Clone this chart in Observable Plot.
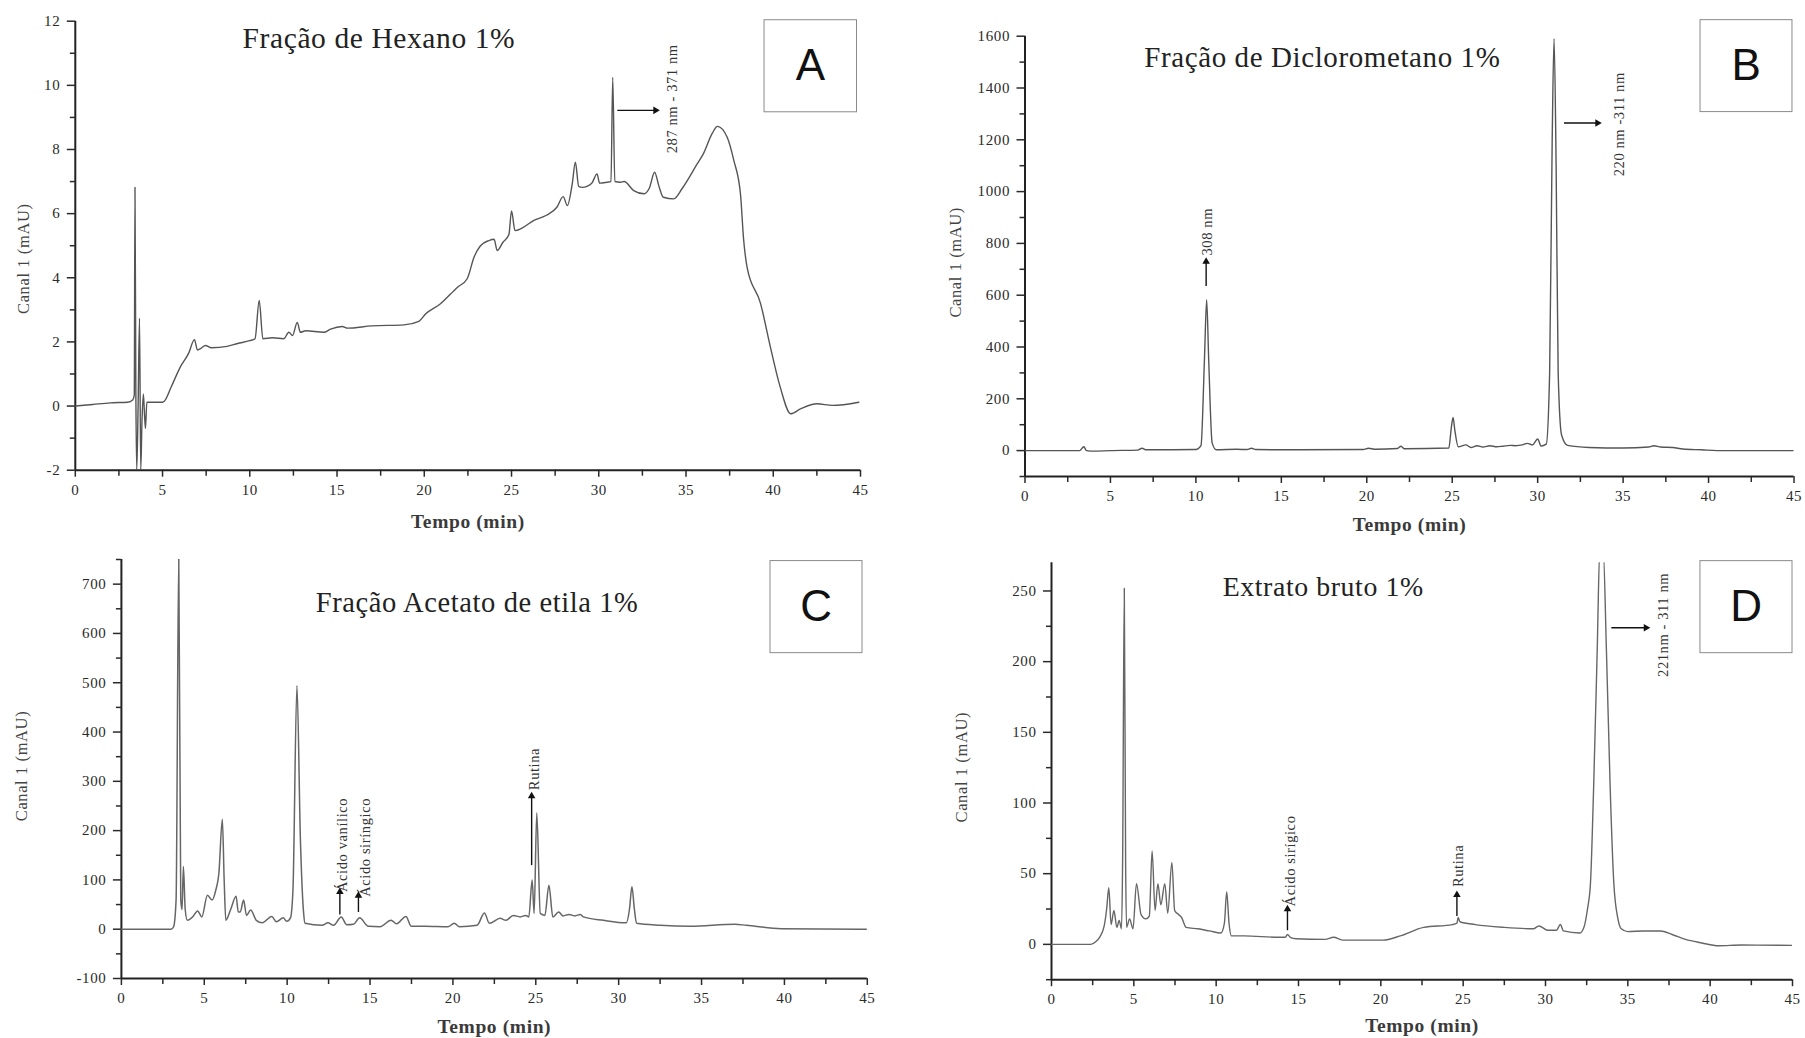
<!DOCTYPE html>
<html><head><meta charset="utf-8">
<script src="https://cdn.jsdelivr.net/npm/d3@7"></script>
<script src="https://cdn.jsdelivr.net/npm/@observablehq/plot@0.6"></script>
<style>
body{margin:0;background:#fff;}
#wrap{position:relative;width:1805px;height:1038px;overflow:hidden;background:#fff;}
.panel{position:absolute;}
</style></head><body><div id="wrap"></div>
<script>
// ---- data: [tempo (min), canal 1 (mAU)] ----
const hexano = [[0,0],[1,0.05],[2,0.1],[3,0.12],[3.3,0.2],[3.38,0.35],[3.42,6.82],[3.47,0.5],[3.52,-2],[3.6,0],[3.68,2.74],[3.75,-2],[3.82,-0.5],[3.9,0.38],[3.97,-0.3],[4.02,-0.7],[4.1,0.12],[5.0,0.12],[5.1,0.15],[5.5,0.6],[6.0,1.2],[6.5,1.65],[6.83,2.07],[7.0,1.75],[7.2,1.8],[7.46,1.89],[7.8,1.82],[8.7,1.86],[9.3,1.95],[10.0,2.04],[10.3,2.1],[10.54,3.29],[10.75,2.1],[11.3,2.13],[11.95,2.1],[12.24,2.3],[12.45,2.2],[12.72,2.61],[12.9,2.3],[13.2,2.35],[14.24,2.3],[14.63,2.4],[15.3,2.48],[15.6,2.43],[17,2.5],[18.83,2.53],[19.69,2.64],[20.07,2.87],[20.93,3.19],[21.89,3.7],[22.46,3.97],[22.85,4.64],[23.22,5.0],[23.7,5.16],[24.0,5.2],[24.18,4.85],[24.5,5.1],[24.85,5.35],[25.0,6.08],[25.2,5.47],[25.6,5.55],[26.28,5.79],[27.0,5.95],[27.6,6.2],[27.96,6.53],[28.2,6.25],[28.48,6.93],[28.66,7.6],[28.85,6.85],[29.05,6.82],[29.6,6.95],[29.9,7.24],[30.05,6.95],[30.48,6.98],[30.7,7.0],[30.8,10.25],[30.92,7.0],[31.25,6.98],[31.45,7.0],[32.0,6.72],[32.6,6.62],[32.9,6.8],[33.2,7.29],[33.45,6.85],[33.7,6.51],[34.3,6.46],[34.8,6.8],[35.64,7.55],[36.0,7.87],[36.5,8.5],[36.8,8.72],[37.36,8.38],[37.74,7.66],[38.12,6.62],[38.3,5.2],[38.5,4.33],[39.27,3.2],[39.84,1.83],[40.4,0.59],[41.0,-0.24],[41.56,-0.09],[42.5,0.07],[43.4,0.02],[44.9,0.12]];

const diclorometano = [[0,0],[3.2,0],[3.44,15],[3.6,0],[4,-2],[5,0],[6.6,2],[6.85,9],[7.1,3],[8,3],[10,4],[10.3,20],[10.5,350],[10.63,583],[10.75,350],[10.95,30],[11.2,3],[12.4,5],[13.0,4],[13.25,9],[13.5,4],[16,3],[19.8,4],[20.1,9],[20.5,5],[21.8,8],[22.0,17],[22.2,7],[24.8,10],[24.95,90],[25.05,128],[25.15,80],[25.35,15],[25.8,22],[26.1,12],[26.45,19],[26.8,14],[27.2,19],[27.6,15],[27.96,17],[28.4,20],[28.7,19],[29.1,22],[29.4,28],[29.7,22],[30.0,45],[30.2,18],[30.5,25],[30.7,300],[30.85,1200],[30.96,1590],[31.08,1100],[31.2,300],[31.4,60],[31.75,20],[33,12],[35,10],[36.5,14],[36.8,19],[37.2,14],[37.9,12],[38.5,6],[39.6,3],[40.5,0],[45,0]];

const acetato = [[0,0],[3.0,0],[3.15,5],[3.3,60],[3.46,760],[3.58,60],[3.66,40],[3.74,127],[3.85,40],[3.98,18],[4.3,25],[4.6,37],[4.85,25],[5.19,69],[5.47,59],[5.7,80],[5.88,113],[6.09,223],[6.2,100],[6.3,18],[6.58,39],[6.92,67],[7.05,35],[7.17,35],[7.37,59],[7.55,28],[7.8,39],[8.14,18],[8.5,13],[9.07,26],[9.35,15],[9.76,23],[9.97,16],[10.2,23],[10.35,80],[10.59,494],[10.8,181],[11.0,30],[11.08,12],[12.1,8],[12.46,13],[12.8,8],[13.26,25],[13.6,9],[14.0,10],[14.37,23],[14.9,6],[15.6,5],[16.27,18],[16.6,11],[17.17,26],[17.48,6],[18.35,6],[19.7,5],[20.08,12],[20.4,5],[21.46,8],[21.9,33],[22.2,12],[22.85,22],[23.2,18],[23.64,28],[24.06,25],[24.4,28],[24.58,25],[24.78,100],[24.9,32],[25.06,236],[25.27,32],[25.55,28],[25.79,89],[26.03,25],[26.38,35],[26.65,27],[27.0,30],[27.35,27],[27.7,30],[27.87,25],[29.08,18],[30.46,13],[30.65,40],[30.8,86],[30.95,40],[31.08,12],[32.5,8],[34.3,6],[37.0,10],[37.7,8],[39.8,1],[45,0]];

const extrato = [[0,0],[2.39,0],[2.7,2],[2.92,5],[3.2,13],[3.35,25],[3.48,40],[3.62,14],[3.79,24],[3.97,12],[4.11,17],[4.25,11],[4.32,60],[4.42,252],[4.5,60],[4.56,12],[4.74,18],[4.95,11],[5.16,43],[5.44,21],[5.73,18],[5.94,20],[6.11,66],[6.29,24],[6.46,43],[6.64,28],[6.88,43],[7.06,22],[7.31,58],[7.48,24],[7.73,21],[7.9,19],[8.18,12],[8.89,11],[9.59,9.5],[10.29,8],[10.5,15],[10.64,37],[10.78,15],[10.92,6],[11.7,6],[13.8,5],[14.2,5],[14.33,7],[14.5,5],[14.86,4],[16.6,3.5],[17.14,5],[17.67,3],[20.13,3],[21.18,6],[22.6,12],[24.34,14],[24.62,15],[24.7,19],[24.8,16],[25.74,14],[27.5,12],[29.26,11],[29.6,13],[30.14,10],[30.67,10],[30.9,14],[31.09,9.5],[32.07,8],[32.33,12],[32.55,25],[32.73,43],[32.93,114],[33.14,208],[33.3,280],[33.5,280],[33.7,208],[33.92,114],[34.15,43],[34.4,18],[34.6,11],[35.0,9],[35.93,9.5],[36.99,9.5],[37.69,7],[38.5,3.5],[39.5,1],[40.5,-1],[41.9,-0.5],[45,-0.7]];

// ---- ticks & labels ----
const xMajor = [0,5,10,15,20,25,30,35,40,45];
const xMinor = [2.5,7.5,12.5,17.5,22.5,27.5,32.5,37.5,42.5];
const yMajorA = [-2,0,2,4,6,8,10,12];
const yMinorA = [-1,1,3,5,7,9,11];
const yMajorB = [0,200,400,600,800,1000,1200,1400,1600];
const yMinorB = [-100,100,300,500,700,900,1100,1300,1500];
const yMajorC = [-100,0,100,200,300,400,500,600,700];
const yMinorC = [-50,50,150,250,350,450,550,650,750];
const yMajorD = [0,50,100,150,200,250];
const yMinorD = [-25,25,75,125,175,225];
const titles = ["Fração de Hexano 1%","Fração de Diclorometano 1%","Fração Acetato de etila 1%","Extrato bruto 1%"];
const letters = ["A","B","C","D"];
const xLabel = "Tempo (min)";
const yLabel = "Canal 1 (mAU)";

const panels = [
 {left:0, top:0, width:902, height:535, mL:74.8, mR:42, mT:20.7, mB:65.3,
  series:hexano, yDomain:[-2,12], yMajor:yMajorA, yMinor:yMinorA, title:titles[0], letter:letters[0], titleSize:29.5,
  titleAt:[17.4,11.46], box:[39.5,44.8,9.16,12.03], yLabDx:-52, yLabDy:13, xLabDy:52,
  arrows:[{x1:31.06,y1:9.22,x2:33.25,y2:9.22,dir:90}],
  notes:[{x:34.2,y:9.58,text:"287 nm - 371 nm"}], stroke:"#555", sw:1.4},
 {left:902, top:0, width:903, height:535, mL:122.5, mR:11.5, mT:35.7, mB:59,
  series:diclorometano, yDomain:[-100,1600], yMajor:yMajorB, yMinor:yMinorB, title:titles[1], letter:letters[1], titleSize:29,
  titleAt:[17.4,1515], box:[39.53,44.91,1307,1662], yLabDx:-69, yLabDy:6, xLabDy:48,
  arrows:[{x1:10.6,y1:636,x2:10.6,y2:730,dir:0},{x1:31.54,y1:1265,x2:33.5,y2:1265,dir:90}],
  notes:[{x:10.7,y:845,text:"308 nm"},{x:34.8,y:1260,text:"220 nm -311 nm"}], stroke:"#555", sw:1.4},
 {left:0, top:535, width:902, height:503, mL:120.9, mR:35.2, mT:24, mB:60,
  series:acetato, yDomain:[-100,750], yMajor:yMajorC, yMinor:yMinorC, title:titles[2], letter:letters[2], titleSize:28.5,
  titleAt:[21.46,663], box:[39.16,44.71,560,746.8], yLabDx:-100, yLabDy:-3, xLabDy:48,
  arrows:[{x1:13.18,y1:30,x2:13.18,y2:76,dir:0},{x1:14.3,y1:35,x2:14.3,y2:68,dir:0},{x1:24.75,y1:130,x2:24.75,y2:270,dir:0}],
  notes:[{x:13.33,y:171,text:"Ácido vanílico"},{x:14.7,y:166,text:"Ácido siríngico"},{x:24.92,y:325,text:"Rutina"}],
  stroke:"#666", sw:1.5},
 {left:902, top:535, width:903, height:503, mL:149, mR:13, mT:27.2, mB:58.8,
  series:extrato, yDomain:[-25,270], yMajor:yMajorD, yMinor:yMinorD, title:titles[3], letter:letters[3], titleSize:27.8,
  titleAt:[16.5,252.5], box:[39.41,45.0,206,271.1], yLabDx:-90, yLabDy:-4, xLabDy:46.5,
  arrows:[{x1:14.33,y1:10,x2:14.33,y2:25,dir:0},{x1:24.62,y1:20,x2:24.62,y2:35,dir:0},{x1:34.0,y1:224,x2:36.1,y2:224,dir:90}],
  notes:[{x:14.5,y:59,text:"Ácido sirígico"},{x:24.69,y:55.5,text:"Rutina"},{x:37.16,y:226,text:"221nm - 311 nm"}],
  stroke:"#666", sw:1.4}
];

const fmt = d => String(d);
const wrap = document.getElementById("wrap");

for (const p of panels) {
  const pts = p.series.map(([t, v]) => ({t, v}));
  const svg = Plot.plot({
    width: p.width, height: p.height,
    marginLeft: p.mL, marginRight: p.mR, marginTop: p.mT, marginBottom: p.mB,
    x: {domain: [0, 45], label: null},
    y: {domain: p.yDomain, label: null},
    style: {fontFamily: "'Liberation Serif', serif", fontSize: "15px", color: "#2a2a2a", background: "transparent", letterSpacing: "0.6px"},
    marks: [
      Plot.axisX(xMinor, {tickSize: 6, tickFormat: () => "", strokeWidth: 1.5, label: null}),
      Plot.axisX(xMajor, {tickSize: 7, tickPadding: 7, tickFormat: fmt, strokeWidth: 1.5, label: null}),
      Plot.axisY(p.yMinor, {tickSize: 5, tickFormat: () => "", strokeWidth: 1.5, label: null}),
      Plot.axisY(p.yMajor, {tickSize: 8, tickPadding: 7, tickFormat: fmt, strokeWidth: 1.5, label: null}),
      Plot.ruleX([0], {stroke: "#222", strokeWidth: 2}),
      Plot.ruleY([p.yDomain[0]], {stroke: "#222", strokeWidth: 2}),
      Plot.line(pts, {x: "t", y: "v", stroke: p.stroke, strokeWidth: p.sw, clip: true, curve: "monotone-x"}),
      Plot.rect([{x1: p.box[0], x2: p.box[1], y1: p.box[2], y2: p.box[3]}],
        {x1: "x1", x2: "x2", y1: "y1", y2: "y2", fill: "white", stroke: "#8a8a8a", strokeWidth: 1}),
      Plot.text([p.letter], {x: () => (p.box[0] + p.box[1]) / 2, y: () => (p.box[2] + p.box[3]) / 2,
        text: d => d, fontFamily: "'Liberation Sans', Arial, sans-serif", fontSize: 44, fill: "#111", lineAnchor: "middle"}),
      Plot.text([p.title], {x: () => p.titleAt[0], y: () => p.titleAt[1], text: d => d,
        fontSize: p.titleSize, fill: "#222", lineAnchor: "middle", ariaLabel: "panel-title"}),
      Plot.link(p.arrows, {x1: "x1", y1: "y1", x2: "x2", y2: "y2", stroke: "#111", strokeWidth: 1.4}),
      Plot.dot(p.arrows, {x: "x2", y: "y2", symbol: "triangle2", r: 3.6, fill: "#111", stroke: "none", rotate: "dir"}),
      Plot.text(p.notes, {x: "x", y: "y", text: "text", rotate: -90, fontSize: 14.5, fill: "#333", lineAnchor: "middle"}),
      Plot.text([xLabel], {frameAnchor: "bottom", dy: p.xLabDy, fontSize: 19.5, fontWeight: "bold", fill: "#3a3a3a", textAnchor: "middle", lineAnchor: "middle", ariaLabel: "xlab"}),
      Plot.text([yLabel], {frameAnchor: "left", dx: p.yLabDx, dy: p.yLabDy, rotate: -90, fontSize: 16.5, fill: "#444", textAnchor: "middle", lineAnchor: "middle"})
    ]
  });
  svg.querySelectorAll('g[aria-label="panel-title"] text').forEach(t => t.style.letterSpacing = "1.6px");
  svg.querySelectorAll('g[aria-label="xlab"] text').forEach(t => t.style.letterSpacing = "2px");
  const div = document.createElement("div");
  div.className = "panel";
  div.style.left = p.left + "px";
  div.style.top = p.top + "px";
  div.appendChild(svg);
  wrap.appendChild(div);
}
</script>
</body></html>
